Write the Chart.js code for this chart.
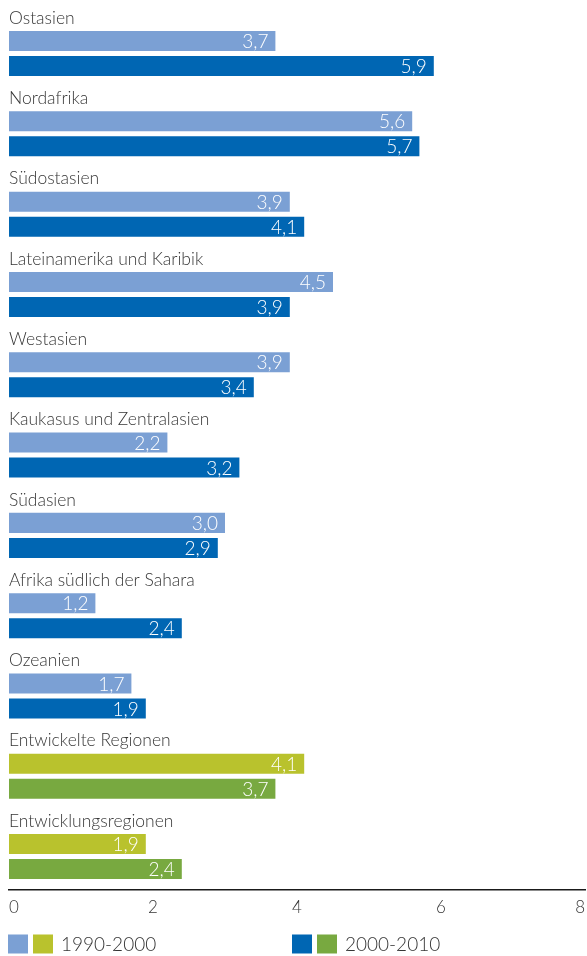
<!DOCTYPE html>
<html>
<head>
<meta charset="utf-8">
<script src="https://cdn.jsdelivr.net/npm/chart.js@4/dist/chart.umd.min.js"></script>
<style>
  html, body { margin: 0; padding: 0; background: #fff; }
  #wrap { position: relative; width: 587px; height: 956px; }
</style>
</head>
<body>
<div id="wrap"><canvas id="chart"></canvas></div>
<script>
const categories = [
  "Ostasien",
  "Nordafrika",
  "Südostasien",
  "Lateinamerika und Karibik",
  "Westasien",
  "Kaukasus und Zentralasien",
  "Südasien",
  "Afrika südlich der Sahara",
  "Ozeanien",
  "Entwickelte Regionen",
  "Entwicklungsregionen"
]
const periods = ["1990-2000", "2000-2010"]
const values1990 = [3.7, 5.6, 3.9, 4.5, 3.9, 2.2, 3.0, 1.2, 1.7, 4.1, 1.9]
const values2000 = [5.9, 5.7, 4.1, 3.9, 3.4, 3.2, 2.9, 2.4, 1.9, 3.7, 2.4]
const xTicks = [0, 2, 4, 6, 8]

// regional rows are blue, the two aggregate rows are green
const aggregateFrom = 9
const blueLight = "#7ba0d4", blueDark = "#0066b3"
const greenLight = "#b9c22d", greenDark = "#78a940"
const FONT = "Lato, 'DejaVu Sans', sans-serif"
const TEXT = "#363636"

const colorsFor = (light, dark) =>
  categories.map((c, i) => (i < aggregateFrom ? light : dark))

const toPoints = vals => vals.map((v, i) => ({ x: v, y: i }))

// keep the plot box where the layout padding puts it
const noScalePadding = s => {
  s.paddingTop = 0
  s.paddingBottom = 0
  s.paddingLeft = 0
  s.paddingRight = 0
}

// white value labels at the end of every bar
const valueLabels = {
  id: "valueLabels",
  afterDatasetsDraw(chart) {
    const ctx = chart.ctx
    ctx.save()
    ctx.fillStyle = "#fff"
    ctx.font = "300 19px " + FONT
    ctx.textAlign = "right"
    ctx.textBaseline = "middle"
    chart.data.datasets.forEach((ds, di) => {
      chart.getDatasetMeta(di).data.forEach((bar, i) => {
        const txt = ds.data[i].x.toFixed(1).replace(".", ",")
        ctx.fillText(txt, bar.x - 7, bar.y + 1)
      })
    })
    ctx.restore()
  }
}

// legend: a blue and a green swatch in front of each period
const pairLegend = {
  id: "pairLegend",
  afterDraw(chart) {
    const ctx = chart.ctx
    const y = 944
    const groups = [
      { x: 8, colors: [blueLight, greenLight], label: periods[0] },
      { x: 292, colors: [blueDark, greenDark], label: periods[1] }
    ]
    ctx.save()
    ctx.font = "300 19px " + FONT
    ctx.textBaseline = "middle"
    groups.forEach(g => {
      g.colors.forEach((c, k) => {
        ctx.fillStyle = c
        ctx.fillRect(g.x + k * 25, y - 9.5, 20, 19)
      })
      ctx.fillStyle = TEXT
      ctx.fillText(g.label, g.x + 53, y + 1)
    })
    ctx.restore()
  }
}

new Chart(document.getElementById("chart"), {
  type: "bar",
  data: {
    datasets: [
      {
        label: periods[0],
        data: toPoints(values1990),
        backgroundColor: colorsFor(blueLight, greenLight)
      },
      {
        label: periods[1],
        data: toPoints(values2000),
        backgroundColor: colorsFor(blueDark, greenDark)
      }
    ]
  },
  options: {
    indexAxis: "y",
    responsive: true,
    maintainAspectRatio: false,
    animation: false,
    categoryPercentage: 0.623,
    barPercentage: 0.8,
    layout: { padding: { top: 13.4, left: 9, right: 2, bottom: 30 } },
    plugins: { legend: { display: false }, tooltip: { enabled: false } },
    scales: {
      x: {
        type: "linear",
        position: "bottom",
        min: 0,
        max: 8,
        grid: { display: false, drawTicks: false },
        border: { display: true, color: "#1a1a1a", width: 1.5 },
        afterBuildTicks: s => { s.ticks = xTicks.map(v => ({ value: v })) },
        afterFit: noScalePadding,
        ticks: {
          align: "inner",
          padding: 8,
          color: TEXT,
          font: { family: FONT, size: 17, weight: 300 }
        }
      },
      y: {
        type: "linear",
        reverse: true,
        offset: false,
        bounds: "data",
        min: -0.5,
        max: 10.411,
        grid: { display: false, drawTicks: false },
        border: { display: false },
        afterFit: s => { s.width = 0; noScalePadding(s) },
        afterBuildTicks: s => { s.ticks = categories.map((c, i) => ({ value: i })) },
        ticks: {
          mirror: true,
          padding: 0,
          labelOffset: -35.5,
          autoSkip: false,
          color: TEXT,
          font: { family: FONT, size: 17.5, weight: 300 },
          callback: v => categories[v]
        }
      }
    }
  },
  plugins: [valueLabels, pairLegend]
})
</script>
</body>
</html>
